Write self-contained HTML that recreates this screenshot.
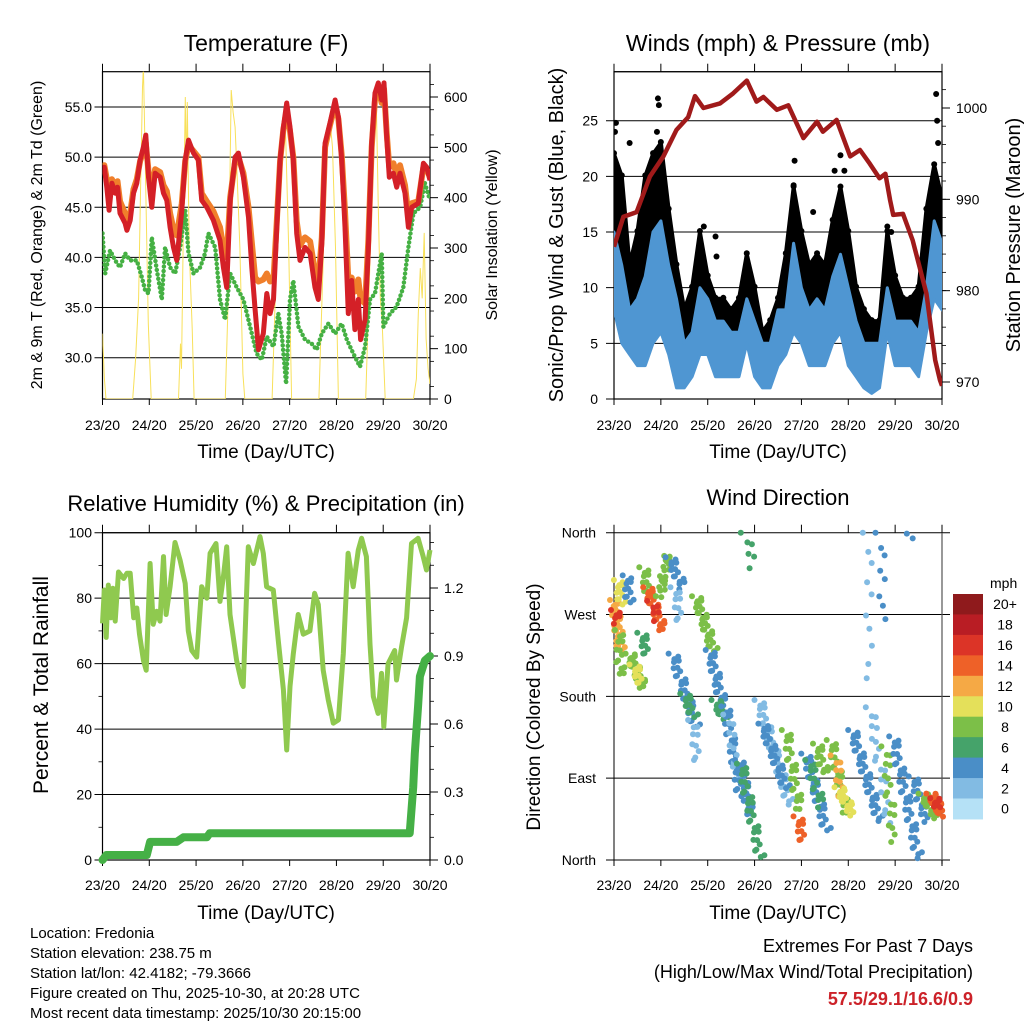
<!DOCTYPE html>
<html><head><meta charset="utf-8"><style>
html,body{margin:0;padding:0;background:#fff;}
svg{display:block;font-family:"Liberation Sans",Arial,sans-serif;}
</style></head><body>
<svg id="chart" width="1024" height="1024" viewBox="0 0 1024 1024" xmlns="http://www.w3.org/2000/svg">
<rect x="0" y="0" width="1024" height="1024" fill="#fff"/>
<g id="temp"></g>
<g id="wind"></g>
<g id="rh"></g>
<g id="dir"></g>
<g font-size="23" text-anchor="middle" fill="#000">
<text x="266" y="51">Temperature (F)</text>
<text x="778" y="51">Winds (mph) &amp; Pressure (mb)</text>
<text x="266" y="511" font-size="22">Relative Humidity (%) &amp; Precipitation (in)</text>
<text x="778" y="505" font-size="22">Wind Direction</text>
</g>
<g font-size="19" text-anchor="middle" fill="#000">
<text x="266" y="458">Time (Day/UTC)</text>
<text x="778" y="458">Time (Day/UTC)</text>
<text x="266" y="919">Time (Day/UTC)</text>
<text x="778" y="919">Time (Day/UTC)</text>
<text transform="translate(42,235) rotate(-90)" font-size="16">2m &amp; 9m T (Red, Orange) &amp; 2m Td (Green)</text>
<text transform="translate(497,235) rotate(-90)" font-size="16">Solar Insolation (Yellow)</text>
<text transform="translate(563,235) rotate(-90)" font-size="20">Sonic/Prop Wind &amp; Gust (Blue, Black)</text>
<text transform="translate(1020,235) rotate(-90)" font-size="20">Station Pressure (Maroon)</text>
<text transform="translate(48,685) rotate(-90)" font-size="21">Percent &amp; Total Rainfall</text>
<text transform="translate(540,707) rotate(-90)" font-size="19">Direction (Colored By Speed)</text>
</g>
<g font-size="15" fill="#000">
<text x="30" y="938">Location: Fredonia</text>
<text x="30" y="958">Station elevation: 238.75 m</text>
<text x="30" y="978">Station lat/lon: 42.4182; -79.3666</text>
<text x="30" y="998">Figure created on Thu, 2025-10-30, at 20:28 UTC</text>
<text x="30" y="1018">Most recent data timestamp: 2025/10/30 20:15:00</text>
</g>
<g font-size="18" text-anchor="end" fill="#000">
<text x="973" y="952">Extremes For Past 7 Days</text>
<text x="973" y="978">(High/Low/Max Wind/Total Precipitation)</text>
<text x="973" y="1005" font-weight="bold" fill="#cc2229">57.5/29.1/16.6/0.9</text>
</g>
</svg>
<script>
// ---------- DATA ----------
const dayLabels = ["23/20","24/20","25/20","26/20","27/20","28/20","29/20","30/20"];
const tempTicks = [30,35,40,45,50,55];
const solarTicks = [0,100,200,300,400,500,600];
const windTicks = [0,5,10,15,20,25];
const presTicks = [970,980,990,1000];
const rhTicks = [0,20,40,60,80,100];
const precipTicks = [0,0.3,0.6,0.9,1.2];
const dirTicks = [0,90,180,270,360];
const dirTickLabels = ["North","East","South","West","North"];

const tempHours = [0,0.9,2.2,3.4,4.8,6.5,7.7,9,11.6,12.5,14.2,15.9,17.6,19.3,21,22.2,23.6,25.3,27,29.6,31.3,33,34.7,36.4,38.1,40.7,42.4,44.1,46.7,49.2,50.9,53.5,56.9,60.3,62,63.7,65.5,68,69.7,72.3,74.9,76.6,78.3,80,82.5,84.3,86,87.7,89.4,91.1,92.8,94.5,96.2,97.9,99.6,101.3,103.9,106.5,109,110.7,112.5,114.2,116.7,119.3,121,122.7,124.4,126.1,127.8,129.5,131.2,132.4,134.7,136.4,138.1,139.8,141.5,143.2,144.4,145.8,147.1,149.2,150.9,152.6,155.2,156.9,158.6,162,164.6,166.3,168];
const temp2m = [48.7,49,47,44.7,47.4,46.4,47,44.4,43.4,42.7,43.7,46.4,47.4,49.7,51,52.2,48,45,48.4,48,46.4,45.7,43,41,39.7,44.7,49.7,51.7,50.4,49.7,45.7,45,43.7,41.7,39,37,45.7,50,50.4,48,44,39,34.8,30.8,32.4,36.4,34.4,35.8,43,49.7,53,55.4,53,49.7,42.4,39.7,41,40.4,37,35.8,41.4,51.4,53.4,55.7,54,49.7,43,34.4,37.7,32.8,35.8,31.8,33.8,41,51.4,56.4,57.4,55.7,57.4,52,48,48.4,47,48.4,46.4,43,45,45.4,49.4,49,47.7];
const temp9m = [48.9,49.2,47.8,46,47.8,47,47.6,45.6,44.4,43.8,44.4,46.8,47.8,49.6,50.6,51.4,48.6,46.2,48.8,48.5,47.2,46.6,44.4,42.8,42.2,45.4,49.6,51.2,50.6,50,46.4,45.6,44.6,43,41,40,46,49.6,50,48.4,45,41.5,38,37.6,37.8,38.4,37.6,37.8,43.6,49.6,52.8,54.6,52.6,50,43.6,41.2,42,41.6,38.6,37.4,42,51,53.2,55.2,53.8,50.2,44.6,37.8,38,36.6,37.8,35.8,35.4,41.8,51,55.8,56.8,55.4,56.8,52.4,49,49.4,48.2,49.2,47.2,44.2,45.4,45.6,49,48.8,48];
const dewHours = [0,1.4,3.9,6.5,9,11.6,14.2,17.6,20.2,21.9,23.6,25.3,27.9,30.4,32.1,34.7,37.3,39.8,42.4,44.1,46.7,50.1,52.6,54.3,57.8,60.3,62.9,65.5,68.9,72.3,75.7,79.1,81.7,84.3,87.7,90.2,91.9,94.2,96.2,97.9,100.5,103.9,107.3,109.9,112.5,115.9,119.3,122.7,125.3,128.7,132.1,134.7,137.2,139.8,143.2,144.1,147.5,150.9,154.3,156.9,159.5,162.9,165.4,168];
const dewPoint = [42.4,38.4,40.7,39.7,39,40.4,39.7,39.7,38,36.7,36.4,42,38.7,35.8,41,39,38.4,41,44.7,40.4,38.4,39,40.4,42.4,41,35.8,33.8,38.4,37,35.8,33.1,30.4,29.8,32.1,31.1,34.4,32.4,27.4,35.8,37.7,33.1,31.8,31.4,30.8,32.4,33.4,32.4,33.4,31.8,30.4,29.1,31.1,35.8,36.4,40.4,33.1,34.4,35.1,37,41,44.4,45,47.4,45.7];
const solarHours = [0,1,1.8,15.5,17,18.5,19.5,20.5,21,21.5,22.5,23.5,25,39,40,40.5,41.5,42.5,43,43.5,44.5,46,47,63,64.5,66,67,68,69,70.5,72,73,87,89,91,92.5,94,95.5,97,111,113,115,116.5,118,119.5,121,135,137,139,140.5,141.5,142.5,143.5,145,159.5,161,162,163,164,165,165.5,166,167,168];
const solarVals = [130,40,0,0,80,200,410,620,660,560,350,150,0,0,110,60,350,600,450,590,300,140,0,0,200,614,570,540,450,300,50,0,0,250,500,560,520,300,0,0,250,520,560,500,300,0,0,250,500,580,380,200,150,0,0,40,170,260,200,330,230,120,60,30];

const windHours = [0,4,8,12,16,20,24,28,32,36,40,44,48,52,56,60,64,68,72,76,80,84,88,92,96,100,104,108,112,116,120,124,128,132,136,140,144,148,152,156,160,164,168];
const gustLo = [10,8,7,8,10,11,12,9,5,5,6,8,6,6,6,5,6,8,6,4,4,6,8,10,7,7,8,6,9,10,7,5,4,3,4,9,6,5,5,6,10,13,9];
const gustHi = [22,20,12,15,20,22,23,17,12,8,10,15,11,9,9,8,9,13,10,6,7,9,13,19,15,12,13,12,16,19,15,10,8,7,7,15,11,9,9,10,17,21,18];
const sustLo = [8,5,4,3,3,5,6,4,1,1,2,4,4,2,2,2,2,5,2,1,1,3,4,6,5,3,3,3,5,6,3,2,1,0.5,1,6,3,3,3,2,6,9,8];
const sustHi = [15,12,8,9,11,15,16,12,9,5,6,10,9,7,7,6,6,9,7,5,5,8,8,14,10,8,9,8,11,13,10,7,5,5,5,10,7,7,7,6,10,16,14];
const gustPeakHours = [0.5,1,8,22,22.5,23,46,52,52.5,91,92,92.5,102,113,116,118,140,142,165,165.5,166];
const gustPeakVals = [24,24.8,23,24,27,26.4,15.5,14.6,12.8,16.2,19.2,21.4,16.8,20.5,21.9,20.5,15.5,15,27.4,25,23];
const presHours = [0,4.8,11.6,18.4,25.3,32,38,41.5,45.8,54.3,61,68,73,76.5,83.4,89.3,97,104,107,114,121,126,131,136,139,141.4,143,148,153,160,164.5,167,168];
const presVals = [984.8,988.1,988.6,992.5,994.7,997.6,999,1001.3,1000,1000.5,1001.6,1003,1000.7,1001.2,999.8,1000.3,996.7,998.5,997.4,998.7,994.7,995.4,993.9,992.3,992.8,989.9,988.3,988.4,985.5,979.7,972.4,970.2,969.6];

const rhHours = [0,0.9,1.9,3,4.3,5.3,6.5,8.2,10.8,12.5,14.2,16,17.6,19,21,22.4,24.4,26,27.8,29.5,31.3,32.6,34.7,37.2,39.8,42.4,44,45.8,48.3,50.9,53.5,55.2,58.2,60.3,62,63.7,65.4,68.8,71.4,72.2,74.8,77.4,80.8,82.5,84.2,87.6,90.2,92.8,94.5,96.2,97.9,100.4,103,106.4,108.8,110.7,113.2,115.8,118.4,121,123.5,126,128.6,131.2,132.9,135.4,137.2,138.9,141.4,143.1,144.3,146.5,149.9,150.8,153.4,156,158.5,161.9,164.5,166.2,168];
const rhVals = [72.3,82.5,68,84,74,83,73,88,86,87.6,87.6,74,77,69,61,58,90.6,72,76,73,92.7,75,83.5,97,91.6,84.5,70,64,62,83.5,80,93.7,96.7,79,86.6,95.7,75,61,54,53,95.7,90.6,98.8,93.7,83.5,82.5,67,52,33.6,53,63,75,69,70,81.5,78,58,49,41.8,42.8,63,93.7,83.5,94.7,98.3,92.7,66,50,44.8,57,40.7,60,64,55,65,74,96.7,98.3,92.7,88.6,94.7];
const precipHours = [0,2,22.7,24.4,38,41.5,53.5,55,157.6,159.4,160.2,161.9,162.8,165.4,168];
const precipVals = [0,0.022,0.022,0.08,0.08,0.1,0.1,0.118,0.118,0.32,0.47,0.68,0.81,0.88,0.9];

// wind direction clusters: start/end hour, start/end direction (deg, 0=N bottom), speed (mph), observation count
const clusterH0 = [0,2,6.5,2.5,8,10,14,15,17,23.5,28.5,31,30,36,40,42,49,52,57,58,64,65,74,76,88,94,98,100,104,111,113,115,122,129.5,136,131,139,143,153,158,162,164,67,152,0.5,19];
const clusterH1 = [3.5,4,8,3.5,15,14,17,18,25,28,35,34,42,41,43,51,56,57,65,64,70,75,90,88,95,97,109,106,108,119,117,122,136,131.5,138,141,143,156,160,165,168,166,71,152.5,1.5,22];
const clusterD0 = [286,308,313,253,227,215,250,322,300,290,333,300,227,183,154,290,231,176,169,160,110,106,176,150,143,48,117,110,128,132,115,80,143,360,360,168,125,136,92,73,73,68,360,359,275,285];
const clusterD1 = [232,282,284,202,190,195,227,290,253,337,300,264,147,158,110,231,169,154,70,90,50,3,62,80,55,22,33,60,95,51,70,51,44,200,265,44,22,3,44,48,51,58,323,357,262,265];
const clusterSpeed = [12,10,4,7,8,10,6,7,14,8,4,2,4,6,2,7,4,6,4,2,4,6,2,4,8,13,4,6,8,8,12,10,4,2,4,2,7,4,4,7,14,16,6,4,16,16];
const clusterCount = [30,12,12,14,25,10,10,12,25,20,15,10,30,12,10,30,25,14,30,12,25,30,40,30,25,10,30,15,14,25,10,18,40,10,8,20,18,40,18,18,20,8,6,2,6,6];

const speedLabels = ["20+","18","16","14","12","10","8","6","4","2","0"];
const speedColors = ["#8f1a1c","#b91d24","#dc3427","#ee6128","#f5a945","#e4e05a","#7cbf48","#45a36a","#4a8ec7","#82bbe3","#b5e1f6"];

// ---------- HELPERS ----------
const NS = "http://www.w3.org/2000/svg";
function mk(parent, tag, attrs, text){
  const e = document.createElementNS(NS, tag);
  for (const k in attrs) e.setAttribute(k, attrs[k]);
  if (text !== undefined) e.textContent = text;
  parent.appendChild(e);
  return e;
}
function makeX(x0, x1){ return h => x0 + h/168*(x1-x0); }
function linY(v0, y0, v1, y1){ return v => y0 + (v-v0)*(y1-y0)/(v1-v0); }
function pts(hs, vs, sx, sy){ return hs.map((h,i)=>sx(h).toFixed(1)+","+sy(vs[i]).toFixed(1)).join(" "); }

function frame(g, x0, x1, yT, yB, bottomLabelY, key){
  const sx = makeX(x0, x1);
  const b = mk(g, "rect", {x:x0, y:yT, width:x1-x0, height:yB-yT, fill:"none", stroke:"#000", "stroke-width":1.2});
  
  
  for (let d=0; d<dayLabels.length; d++){
    const x = sx(d*24);
    const t1 = mk(g, "line", {x1:x, x2:x, y1:yT-8, y2:yT, stroke:"#000", "stroke-width":1});
    
    
    const t2 = mk(g, "line", {x1:x, x2:x, y1:yB, y2:yB+6, stroke:"#000", "stroke-width":1});
    
    
    const lb = mk(g, "text", {x:x, y:bottomLabelY, "font-size":14, "text-anchor":"middle"}, dayLabels[d]);
    
    
  }
  return sx;
}
function leftAxis(g, ticks, fmt, sy, x0, x1, labelX, key){
  ticks.forEach(v=>{
    const y = sy(v);
    const l = mk(g, "line", {x1:x0-8, x2:x1, y1:y, y2:y, stroke:"#000", "stroke-width":1});
    
    
    const t = mk(g, "text", {x:labelX, y:y+5, "font-size":14, "text-anchor":"end"}, fmt(v));
    
    
  });
}
function rightAxis(g, ticks, fmt, sy, x1, key){
  ticks.forEach(v=>{
    const y = sy(v);
    const l = mk(g, "line", {x1:x1, x2:x1+8, y1:y, y2:y, stroke:"#000", "stroke-width":1});
    
    
    const t = mk(g, "text", {x:x1+14, y:y+5, "font-size":14}, fmt(v));
    
    
  });
}
function minorTicks(g, yT, yB, y0, step, x, key){
  for (let y=y0; y>yT; y-=step){
    if (y>yB) continue;
    const l = mk(g, "line", {x1:x, x2:x+4, y1:y, y2:y, stroke:"#000", "stroke-width":0.8});
    
    
  }
}

// ---------- TEMPERATURE ----------
(function(){
  const g = document.getElementById("temp");
  const x0=102.5, x1=430, yT=71.7, yB=399;
  const sT = linY(55, 107, 30, 357.7);
  const sS = linY(0, 399, 600, 97);
  const clip = mk(g, "clipPath", {id:"clipT"}); mk(clip, "rect", {x:x0, y:yT, width:x1-x0, height:yB-yT});
  leftAxis(g, tempTicks, v=>v.toFixed(1), sT, x0, x1, 92, "temperature");
  const sx = frame(g, x0, x1, yT, yB, 430, "temperature");
  rightAxis(g, solarTicks, v=>String(v), sS, x1, "solar");
  minorTicks(g, yT, yB, 399-12.5, 25.16, x1, "solar");
  const pg = mk(g, "g", {"clip-path":"url(#clipT)"});
  const sol = mk(pg, "polyline", {points:pts(solarHours, solarVals, sx, sS), fill:"none", stroke:"#f8e05a", "stroke-width":1});
  
  
  const dew = mk(pg, "polyline", {points:pts(dewHours, dewPoint, sx, sT), fill:"none", stroke:"#45b043", "stroke-width":4.5, "stroke-dasharray":"0 4.5", "stroke-linecap":"round", "stroke-linejoin":"round"});
  
  
  const o = mk(pg, "polyline", {points:pts(tempHours, temp9m, sx, sT), fill:"none", stroke:"#f07f2b", "stroke-width":6, "stroke-linejoin":"round"});
  
  
  const r = mk(pg, "polyline", {points:pts(tempHours, temp2m, sx, sT), fill:"none", stroke:"#d42027", "stroke-width":5, "stroke-linejoin":"round"});
  
  
})();

// ---------- WINDS ----------
(function(){
  const g = document.getElementById("wind");
  const x0=614, x1=942, yT=71.7, yB=399;
  const sW = linY(0, 399, 25, 120.7);
  const sP = linY(1000, 108, 970, 382);
  const clip = mk(g, "clipPath", {id:"clipW"}); mk(clip, "rect", {x:x0, y:yT, width:x1-x0, height:yB-yT});
  leftAxis(g, windTicks, v=>String(v), sW, x0, x1, 598, "wind");
  const top = mk(g, "line", {x1:x0, x2:x1, y1:yT, y2:yT, stroke:"#000"});
  
  
  const sx = frame(g, x0, x1, yT, yB, 430, "wind");
  rightAxis(g, presTicks, v=>String(v), sP, x1, "pressure");
  minorTicks(g, yT, yB, 382-18.3, 18.27, x1, "pressure");
  const pg = mk(g, "g", {"clip-path":"url(#clipW)"});
  const band = (lo, hi) => windHours.map(h=>sx(h).toFixed(1)).map((x,i)=>x+","+sW(hi[i]).toFixed(1)).join(" ") + " " +
    windHours.slice().reverse().map((h,j)=>{const i=windHours.length-1-j; return sx(h).toFixed(1)+","+sW(lo[i]).toFixed(1);}).join(" ");
  const gb = mk(pg, "polygon", {points:band(gustLo, gustHi), fill:"#000", stroke:"#000", "stroke-width":4, "stroke-linejoin":"round"});
  
  
  windHours.forEach((h,i)=>{
    const c = mk(pg, "circle", {cx:sx(h), cy:sW(gustHi[i])-1, r:3, fill:"#000"});
    
    
  });
  gustPeakHours.forEach((h,i)=>{
    const c = mk(pg, "circle", {cx:sx(h), cy:sW(gustPeakVals[i]), r:3, fill:"#000"});
    
    
  });
  const sb = mk(pg, "polygon", {points:band(sustLo, sustHi), fill:"#4f96d2", stroke:"#4f96d2", "stroke-width":3, "stroke-linejoin":"round"});
  
  
  const p = mk(pg, "polyline", {points:pts(presHours, presVals, sx, sP), fill:"none", stroke:"#a01a1a", "stroke-width":4.5, "stroke-linejoin":"round"});
  
  
})();

// ---------- HUMIDITY ----------
(function(){
  const g = document.getElementById("rh");
  const x0=102.5, x1=430, yT=532.7, yB=860;
  const sR = linY(0, 860, 100, 532.7);
  const sP = linY(0, 860, 0.9, 656);
  leftAxis(g, rhTicks, v=>String(v), sR, x0, x1, 92, "humidity");
  const sx = frame(g, x0, x1, yT, yB, 890, "humidity");
  rightAxis(g, precipTicks, v=>v.toFixed(1), sP, x1, "precip");
  minorTicks(g, yT, yB, 860-22.7, 22.67, x1, "precip");
  [10,30,50,70,90].forEach(v=>{
    const l = mk(g, "line", {x1:x0-4, x2:x0, y1:sR(v), y2:sR(v), stroke:"#000", "stroke-width":0.8});
    
    
  });
  const r = mk(g, "polyline", {points:pts(rhHours, rhVals, sx, sR), fill:"none", stroke:"#8fc94f", "stroke-width":5, "stroke-linejoin":"round"});
  
  
  const p = mk(g, "polyline", {points:pts(precipHours, precipVals, sx, sP), fill:"none", stroke:"#45b046", "stroke-width":8, "stroke-linejoin":"round", "stroke-linecap":"round"});
  
  
})();

// ---------- WIND DIRECTION ----------
(function(){
  const g = document.getElementById("dir");
  const x0=614, x1=942, yT=532.7, yB=860;
  const sD = linY(0, 860, 360, 532.7);
  dirTicks.forEach((v,i)=>{
    const y = sD(v);
    const l = mk(g, "line", {x1:x0-8, x2:x1+8, y1:y, y2:y, stroke:"#000", "stroke-width":1});
    
    
    const t = mk(g, "text", {x:596, y:y+5, "font-size":14, "text-anchor":"end"}, dirTickLabels[i]);
    
    
  });
  const sx = makeX(x0, x1);
  const la = mk(g, "line", {x1:x0, x2:x0, y1:yT, y2:yB, stroke:"#000"});
  
  
  const ra = mk(g, "line", {x1:x1, x2:x1, y1:yT, y2:yB+4, stroke:"#555", "stroke-width":1.2});
  
  
  for (let d=0; d<dayLabels.length; d++){
    const x = sx(d*24);
    const t1 = mk(g, "line", {x1:x, x2:x, y1:yT-8, y2:yT, stroke:"#000"});
    
    
    const t2 = mk(g, "line", {x1:x, x2:x, y1:yB, y2:yB+6, stroke:"#000"});
    
    
    const lb = mk(g, "text", {x:x, y:890, "font-size":14, "text-anchor":"middle"}, dayLabels[d]);
    
    
  }
  const colorFor = s => speedColors[10 - Math.max(0, Math.min(10, Math.round(s/2)))];
  const xOff = [-4,1,4,-1,3,-3,0,2,-2];
  const yOff = [0,3,-2,1,-3,2,-1,0,2];
  clusterH0.forEach((h0,i)=>{
    const xa = sx(h0), xb = sx(clusterH1[i]), ya = sD(clusterD0[i]), yb = sD(clusterD1[i]);
    const n = clusterCount[i];
    for (let k=0; k<n; k++){
      const f = n>1 ? k/(n-1) : 0.5;
      const c = mk(g, "circle", {cx:(xa+(xb-xa)*f+xOff[k%9]).toFixed(1), cy:(ya+(yb-ya)*f+yOff[k%9]).toFixed(1), r:3, fill:colorFor(clusterSpeed[i])});
      
      
    }
  });
  // colorbar
  const cbT = 594, cbH = 20.45;
  const mph = mk(g, "text", {x:990, y:588, "font-size":14}, "mph");
  
  
  speedLabels.forEach((lab,i)=>{
    const r = mk(g, "rect", {x:953, y:cbT+i*cbH, width:30, height:cbH+0.5, fill:speedColors[i]});
    
    
    const t = mk(g, "text", {x:1005, y:cbT+i*cbH+cbH/2+5, "font-size":14, "text-anchor":"middle"}, lab);
    
    
  });
})();
</script>
</body></html>
